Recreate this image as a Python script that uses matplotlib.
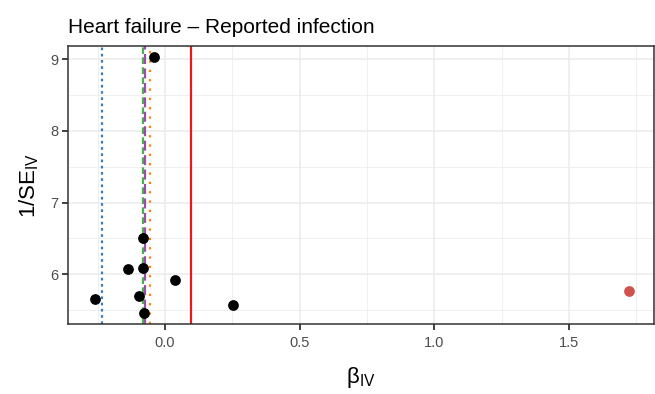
import matplotlib
matplotlib.use("Agg")
import matplotlib.pyplot as plt
from matplotlib.ticker import MultipleLocator

plt.rcParams["font.family"] = ["Liberation Sans", "DejaVu Sans"]
plt.rcParams["mathtext.default"] = "regular"

# per-variant IV estimates (beta, 1/SE)
beta = [-0.040, -0.082, -0.139, -0.082, 0.037, -0.260, -0.097, -0.078, 0.254]
prec = [9.03, 6.51, 6.07, 6.08, 5.92, 5.65, 5.70, 5.46, 5.57]
# outlying variant, drawn in red
out_beta = [1.721]
out_prec = [5.76]

# summary estimates drawn as vertical lines
ref_beta = 0.097
est_names = ["egger", "ivw", "median", "mode"]
est_beta = [-0.235, -0.080, -0.073, -0.055]
est_cols = ["#377EB8", "#4DAF4A", "#984EA3", "#FF7F00"]
est_ls = [(0, (1.2, 1.6)), (0, (3, 1.5)), (0, (4.5, 2)), (0, (1, 3.2))]

fig = plt.figure(figsize=(6.55, 3.94), dpi=100)
ax = fig.add_axes([0.1043, 0.177, 0.8937, 0.707])

ax.set_xlim(-0.359, 1.814)
ax.set_ylim(5.30, 9.19)
ax.xaxis.set_major_locator(MultipleLocator(0.5))
ax.xaxis.set_minor_locator(MultipleLocator(0.25))
ax.yaxis.set_major_locator(MultipleLocator(1))
ax.yaxis.set_minor_locator(MultipleLocator(0.5))
ax.grid(which="major", color="#EBEBEB", lw=1.1, zorder=0)
ax.grid(which="minor", color="#EBEBEB", lw=0.55, zorder=0)
ax.set_axisbelow(True)

ax.axvline(ref_beta, color="#E41A1C", lw=1.6, zorder=2)
for b, c, ls in zip(est_beta, est_cols, est_ls):
    ax.axvline(b, color=c, lw=1.6, ls=ls, zorder=2)

ax.scatter(beta, prec, s=60, color="black", zorder=3, lw=0)
ax.scatter(out_beta, out_prec, s=60, color="#CD534C", zorder=3, lw=0)

for s in ax.spines.values():
    s.set_color("#333333")
    s.set_linewidth(1.1)
ax.tick_params(which="major", length=4, width=1.3, color="#333333",
               labelcolor="#4D4D4D", labelsize=10.5)
ax.tick_params(axis="x", which="major", pad=4.5)
ax.tick_params(axis="y", which="major", pad=3)
ax.tick_params(which="minor", length=0)
ax.set_xticklabels([f"{t:.1f}" for t in ax.get_xticks()])

ax.set_xlabel(r"$\beta_{IV}$", fontsize=16, labelpad=11)
ax.set_ylabel(r"1/SE$_{IV}$", fontsize=16, labelpad=7)
ax.set_title("Heart failure \u2013 Reported infection", loc="left",
             fontsize=15, pad=9)

fig.savefig("out.png", dpi=100)
